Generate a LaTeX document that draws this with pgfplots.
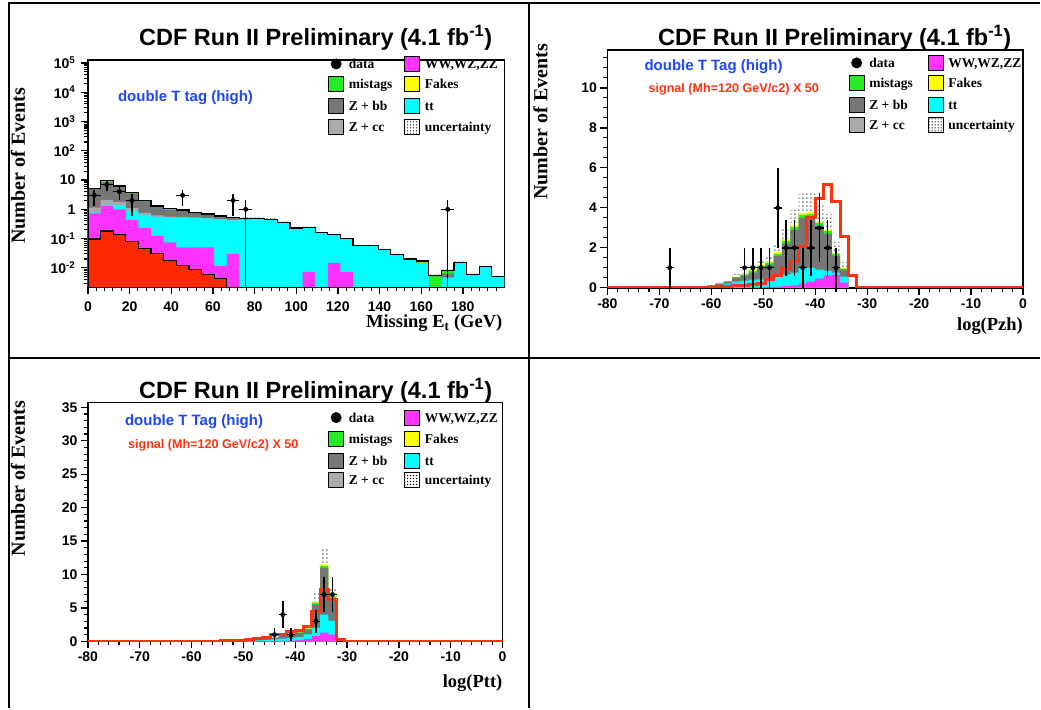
\documentclass[border=0pt]{standalone}
\usepackage{fontspec}
\setmainfont{Liberation Serif}
\newfontfamily\arial{Liberation Sans}
\usepackage{pgfplots}
\pgfplotsset{compat=1.18}
\usepackage{pgfplotstable}
\usetikzlibrary{patterns.meta}

\definecolor{cmag}{RGB}{255,51,255}
\definecolor{ccyan}{RGB}{0,255,255}
\definecolor{cdgray}{RGB}{118,118,118}
\definecolor{clgray}{RGB}{170,170,170}
\definecolor{cgreen}{RGB}{40,235,40}
\definecolor{cyellow}{RGB}{255,255,0}
\definecolor{cred}{RGB}{255,40,0}
\definecolor{csig}{RGB}{255,50,15}
\definecolor{cblue}{RGB}{30,70,250}

% ---------- panel 1 : Missing Et (cumulative stack tops, bins of 200/33) ----------
\pgfplotstableread{
x R M C LG DG Gr Y U
0 0.001 0.001 0.001 0.001 0.001 0.001 0.001 0.001
0 0.096 0.73 0.78 1.15 4.9 5.0 5.1 5.6
6.061 0.18 1.3 1.45 2.1 8.7 9.0 9.4 10.3
12.121 0.135 1.0 1.35 1.8 6.1 6.2 6.3 6.9
18.182 0.08 0.43 0.9 1.1 3.5 3.6 3.75 4.1
24.242 0.045 0.23 0.65 0.75 1.85 1.9 1.97 2.15
30.303 0.03 0.12 0.55 0.62 1.2 1.25 1.29 1.42
36.364 0.018 0.074 0.52 0.56 0.98 1.0 1.05 1.15
42.424 0.0123 0.05 0.5 0.54 0.88 0.9 0.95 1.05
48.485 0.0088 0.05 0.5 0.53 0.74 0.75 0.77 0.85
54.545 0.0059 0.05 0.48 0.5 0.66 0.67 0.69 0.76
60.606 0.0043 0.0114 0.45 0.47 0.57 0.58 0.59 0.65
66.667 0.001 0.03 0.42 0.44 0.52 0.53 0.54 0.6
72.727 0.001 0.001 0.45 0.46 0.49 0.5 0.5 0.55
78.788 0.001 0.001 0.46 0.47 0.48 0.5 0.5 0.55
84.848 0.001 0.001 0.44 0.45 0.455 0.46 0.46 0.5
90.909 0.001 0.001 0.34 0.35 0.355 0.36 0.36 0.39
96.970 0.001 0.001 0.22 0.225 0.228 0.23 0.23 0.25
103.030 0.001 0.0073 0.235 0.24 0.243 0.245 0.245 0.26
109.091 0.001 0.001 0.16 0.163 0.165 0.166 0.166 0.18
115.152 0.001 0.0148 0.13 0.132 0.133 0.134 0.134 0.145
121.212 0.001 0.0073 0.094 0.096 0.097 0.098 0.098 0.105
127.273 0.001 0.001 0.057 0.058 0.058 0.059 0.059 0.064
133.333 0.001 0.001 0.056 0.057 0.058 0.059 0.059 0.064
139.394 0.001 0.001 0.040 0.041 0.041 0.041 0.042 0.046
145.455 0.001 0.001 0.027 0.0275 0.0278 0.028 0.028 0.031
151.515 0.001 0.001 0.019 0.0195 0.0198 0.020 0.020 0.022
157.576 0.001 0.001 0.014 0.0145 0.015 0.015 0.017 0.019
163.636 0.001 0.001 0.001 0.001 0.001 0.0055 0.0055 0.006
169.697 0.001 0.001 0.0046 0.0046 0.0063 0.0083 0.0083 0.009
175.758 0.001 0.001 0.015 0.0152 0.0154 0.0156 0.0156 0.017
181.818 0.001 0.001 0.0057 0.0058 0.0059 0.0059 0.0059 0.0064
187.879 0.001 0.001 0.0105 0.0106 0.0107 0.0108 0.0108 0.0118
193.939 0.001 0.001 0.005 0.0051 0.0052 0.0052 0.0052 0.0057
200 0.001 0.001 0.001 0.001 0.001 0.001 0.001 0.001
}\tabA
\pgfplotstableread{
x y ex em ep
3.030 3 3.03 1.732 1.732
9.091 7 3.03 2.646 2.646
15.152 4 3.03 2 2
21.212 2 3.03 1.414 1.414
45.455 3 3.03 1.732 1.732
69.697 2 3.03 1.414 1.414
75.758 1 3.03 0.999 1
172.727 1 3.03 0.999 1
}\datA

% ---------- panel 2 : log(Pzh) ----------
\pgfplotstableread{
x M C G Gr Y U
-64.0 0 0 0 0 0 0
-64.0 0 0.02 0.03 0.03 0.03 0.04
-62.4 0 0.04 0.06 0.06 0.06 0.08
-60.8 0 0.08 0.12 0.12 0.12 0.16
-59.2 0 0.12 0.2 0.2 0.2 0.26
-57.6 0 0.2 0.3 0.32 0.33 0.42
-56.0 0.01 0.3 0.5 0.53 0.55 0.7
-54.4 0.01 0.35 0.6 0.65 0.68 0.86
-52.8 0.02 0.4 0.75 0.85 0.9 1.12
-51.2 0.03 0.42 1.0 1.1 1.15 1.42
-49.6 0.04 0.45 1.15 1.25 1.3 1.6
-48.0 0.05 0.55 1.6 1.7 1.8 2.2
-46.4 0.08 0.65 2.2 2.35 2.45 3.0
-44.8 0.12 0.75 2.9 3.05 3.15 3.9
-43.2 0.2 1.0 3.5 3.65 3.75 4.7
-41.6 0.3 1.0 3.55 3.7 3.8 4.8
-40.0 0.45 0.9 3.1 3.25 3.3 4.2
-38.4 0.6 0.85 2.7 2.85 2.9 3.7
-36.8 0.65 0.75 1.6 1.7 1.75 2.3
-35.2 0.25 0.55 0.9 0.95 1.0 1.3
-33.6 0 0 0 0 0 0
}\tabB
\pgfplotstableread{
x S
-80.0 0.03
-59.2 0.05
-57.6 0.07
-56.0 0.1
-54.4 0.13
-52.8 0.16
-51.2 0.2
-49.6 0.4
-48.0 0.6
-46.4 0.98
-44.8 1.3
-43.2 2.07
-41.6 3.5
-40.0 4.45
-38.4 5.15
-36.8 4.3
-35.2 2.57
-33.6 0.6
-32.0 0.03
0.0 0.03
}\sigB
\pgfplotstableread{
x y ex em ep
-68.0 1 0.8 1 1
-53.6 1 0.8 1 1
-52.0 1 0.8 1 1
-50.4 1 0.8 1 1
-48.8 1 0.8 1 1
-47.2 4 0.8 2 2
-45.6 2 0.8 1.414 1.414
-44.0 2 0.8 1.414 1.414
-42.4 1 0.8 1 1
-40.8 2 0.8 1.414 1.414
-39.2 3 0.8 1.732 1.732
-37.6 2 0.8 1.414 1.414
-36.0 1 0.8 1 1
}\datB

% ---------- panel 3 : log(Ptt) ----------
\pgfplotstableread{
x M C G Gr Y U
-56.0 0 0 0 0 0 0
-56.0 0 0.03 0.05 0.05 0.05 0.07
-54.4 0 0.05 0.1 0.1 0.1 0.12
-52.8 0 0.08 0.15 0.15 0.15 0.2
-51.2 0 0.1 0.2 0.2 0.2 0.25
-49.6 0 0.12 0.25 0.26 0.27 0.35
-48.0 0.02 0.15 0.3 0.32 0.33 0.45
-46.4 0.03 0.2 0.4 0.42 0.45 0.6
-44.8 0.05 0.3 0.55 0.58 0.6 0.8
-43.2 0.08 0.4 0.8 0.83 0.85 1.1
-41.6 0.12 0.5 1.0 1.05 1.1 1.4
-40.0 0.2 0.65 1.3 1.35 1.4 1.8
-38.4 0.35 1.05 1.8 1.9 2.0 2.6
-36.8 0.8 2.05 5.5 5.8 5.9 7.5
-35.2 1.3 4.0 11.0 11.3 11.5 13.8
-33.6 1.0 3.1 6.5 6.7 6.8 8.0
-32.0 0 0 0 0 0 0
}\tabC
\pgfplotstableread{
x S
-80.0 0.05
-54.4 0.1
-52.8 0.15
-51.2 0.2
-49.6 0.25
-48.0 0.4
-46.4 0.6
-44.8 1.0
-43.2 1.05
-41.6 1.55
-40.0 1.6
-38.4 2.3
-36.8 4.4
-35.2 7.7
-33.6 6.2
-32.0 0.3
-30.4 0.05
0.0 0.05
}\sigC
\pgfplotstableread{
x y ex em ep
-44.0 1 0.8 1 1
-42.4 4 0.8 2 2
-40.8 1 0.8 1 1
-36.0 3 0.8 1.732 1.732
-34.4 7 0.8 2.646 2.646
-32.8 7 0.8 2.646 2.646
}\datC

\pgfplotsset{
  cdfaxis/.style={
    scale only axis, anchor=south west,
    axis line style={line width=1.6pt},
    every major tick/.append style={black, line width=1.3pt},
    every minor tick/.append style={black, line width=1.1pt},
    tick align=outside, tick pos=left,
    major tick length=7pt, minor tick length=4pt,
    ticklabel style={font=\arial\bfseries\fontsize{14}{16}\selectfont},
    /pgf/number format/assume math mode=true,
  },
  stk/.style={const plot, draw=none, mark=none, fill=#1},
  unc/.style={const plot, draw=none, mark=none, pattern={Dots[distance=4pt,radius=0.75pt]}, pattern color=black},
  dat/.style={black, only marks, mark=*, mark size=2.2pt, mark options={fill=black},
    error bars/.cd, x dir=both, x explicit, y dir=both, y explicit,
    error bar style={line width=1.5pt, black}, error mark=none},
}

\tikzset{
  legtext/.style={anchor=base west, inner sep=0pt, font=\bfseries\fontsize{13.5}{16}\selectfont},
  legbox/.style={line width=1pt, draw=black},
}
\newcommand{\cdflegend}[6]{%
  \fill (#1+7.5,709-#3) circle (5.5);
  \node[legtext] at (#1+20,709-#3-4.5) {data};
  \draw[legbox, fill=cmag] (#2,709-#3-7.5) rectangle ++(15,15);
  \node[legtext] at (#2+20,709-#3-4.5) {WW,WZ,ZZ};
  \draw[legbox, fill=cgreen] (#1,709-#4-7.5) rectangle ++(15,15);
  \node[legtext] at (#1+20,709-#4-4.5) {mistags};
  \draw[legbox, fill=cyellow] (#2,709-#4-7.5) rectangle ++(15,15);
  \node[legtext] at (#2+20,709-#4-4.5) {Fakes};
  \draw[legbox, fill=cdgray] (#1,709-#5-7.5) rectangle ++(15,15);
  \node[legtext] at (#1+20,709-#5-4.5) {Z + bb};
  \draw[legbox, fill=ccyan] (#2,709-#5-7.5) rectangle ++(15,15);
  \node[legtext] at (#2+20,709-#5-4.5) {tt};
  \draw[legbox, fill=clgray] (#1,709-#6-7.5) rectangle ++(15,15);
  \node[legtext] at (#1+20,709-#6-4.5) {Z + cc};
  \draw[legbox, pattern={Dots[distance=3pt,radius=0.7pt]}, pattern color=black] (#2,709-#6-7.5) rectangle ++(15,15);
  \node[legtext] at (#2+20,709-#6-4.5) {uncertainty};
}

\begin{document}
\begin{tikzpicture}
\begin{scope}[x=1pt,y=1pt]
  \useasboundingbox (0,0) rectangle (1041,709);
\end{scope}

% ================= panel 1 =================
\begin{axis}[cdfaxis, at={(88pt,422pt)}, width=417pt, height=227pt,
  xmin=0, xmax=200, ymode=log, log basis y=10, ymin=0.00226, ymax=1.27e5,
  xtick={0,20,...,180}, xticklabels={0,20,40,60,80,100,120,140,160,180},
  xticklabel style={yshift=-4pt},
  yticklabel style={xshift=-2pt},
  minor xtick={4,8,...,196},
  ytick={0.01,0.1,1,10,100,1000,10000,100000},
  yticklabels={10\textsuperscript{-2},10\textsuperscript{-1},1,10,10\textsuperscript{2},10\textsuperscript{3},10\textsuperscript{4},10\textsuperscript{5}},
  minor ytick={0.003,0.004,0.005,0.006,0.007,0.008,0.009,0.02,0.03,0.04,0.05,0.06,0.07,0.08,0.09,0.2,0.3,0.4,0.5,0.6,0.7,0.8,0.9,2,3,4,5,6,7,8,9,20,30,40,50,60,70,80,90,200,300,400,500,600,700,800,900,2000,3000,4000,5000,6000,7000,8000,9000,20000,30000,40000,50000,60000,70000,80000,90000},
]
  \addplot[unc] table[x=x,y=U]{\tabA};
  \addplot[stk=cyellow] table[x=x,y=Y]{\tabA};
  \addplot[stk=cgreen] table[x=x,y=Gr]{\tabA};
  \addplot[stk=cdgray] table[x=x,y=DG]{\tabA};
  \addplot[stk=clgray] table[x=x,y=LG]{\tabA};
  \addplot[stk=ccyan] table[x=x,y=C]{\tabA};
  \addplot[stk=cmag] table[x=x,y=M]{\tabA};
  \addplot[const plot, mark=none, fill=cred, draw=black, line width=1.2pt] table[x=x,y=R]{\tabA};
  \addplot[const plot, mark=none, draw=black, line width=1.2pt] table[x=x,y=Y]{\tabA};
  \addplot[dat] table[x=x,y=y,x error=ex,y error plus=ep,y error minus=em]{\datA};
\end{axis}

% ================= panel 2 =================
\begin{axis}[cdfaxis, at={(608pt,421pt)}, width=416pt, height=238pt,
  xmin=-80, xmax=0, ymin=0, ymax=11.9,
  xtick={-80,-70,...,0}, xticklabels={-80,-70,-60,-50,-40,-30,-20,-10,0},
  minor xtick={-78,-76,...,-2},
  ytick={0,2,...,10}, yticklabels={0,2,4,6,8,10},
  minor ytick={0.5,1,...,11.5},
]
  \addplot[unc] table[x=x,y=U]{\tabB};
  \addplot[stk=cyellow] table[x=x,y=Y]{\tabB};
  \addplot[stk=cgreen] table[x=x,y=Gr]{\tabB};
  \addplot[stk=cdgray] table[x=x,y=G]{\tabB};
  \addplot[stk=ccyan] table[x=x,y=C]{\tabB};
  \addplot[stk=cmag] table[x=x,y=M]{\tabB};
  \addplot[const plot, mark=none, csig, line width=3pt] table[x=x,y=S]{\sigB};
  \addplot[dat] table[x=x,y=y,x error=ex,y error plus=ep,y error minus=em]{\datB};
\end{axis}

% ================= panel 3 =================
\begin{axis}[cdfaxis, at={(88pt,67pt)}, width=415pt, height=239pt,
  xmin=-80, xmax=0, ymin=0, ymax=35.7,
  xtick={-80,-70,...,0}, xticklabels={-80,-70,-60,-50,-40,-30,-20,-10,0},
  minor xtick={-78,-76,...,-2},
  ytick={0,5,...,35}, yticklabels={0,5,10,15,20,25,30,35},
  minor ytick={1,2,...,35},
]
  \addplot[unc] table[x=x,y=U]{\tabC};
  \addplot[stk=cyellow] table[x=x,y=Y]{\tabC};
  \addplot[stk=cgreen] table[x=x,y=Gr]{\tabC};
  \addplot[stk=cdgray] table[x=x,y=G]{\tabC};
  \addplot[stk=ccyan] table[x=x,y=C]{\tabC};
  \addplot[stk=cmag] table[x=x,y=M]{\tabC};
  \addplot[const plot, mark=none, csig, line width=3pt] table[x=x,y=S]{\sigC};
  \addplot[dat] table[x=x,y=y,x error=ex,y error plus=ep,y error minus=em]{\datC};
\end{axis}

\begin{scope}[x=1pt,y=1pt]
  % pad frames
  \draw[line width=2pt] (9,0) -- (9,706) -- (1041,706);
  \draw[line width=2pt] (530,0) -- (530,706);
  \draw[line width=2pt] (9,351) -- (1041,351);

  % titles
  \node[anchor=base, inner sep=0, font=\arial\bfseries\fontsize{23.5}{28}\selectfont] at (316,663.5) {CDF Run II Preliminary (4.1 fb\textsuperscript{-1})};
  \node[anchor=base, inner sep=0, font=\arial\bfseries\fontsize{23.5}{28}\selectfont] at (835.5,663) {CDF Run II Preliminary (4.1 fb\textsuperscript{-1})};
  \node[anchor=base, inner sep=0, font=\arial\bfseries\fontsize{23.5}{28}\selectfont] at (316,310) {CDF Run II Preliminary (4.1 fb\textsuperscript{-1})};

  % y labels
  \node[rotate=90, inner sep=0, font=\bfseries\fontsize{20}{24}\selectfont] at (18,543) {Number of Events};
  \node[rotate=90, inner sep=0, font=\bfseries\fontsize{20}{24}\selectfont] at (541,587) {Number of Events};
  \node[rotate=90, inner sep=0, font=\bfseries\fontsize{20}{24}\selectfont] at (18,230) {Number of Events};

  % x labels
  \node[anchor=base east, inner sep=0, font=\bfseries\fontsize{18.5}{22}\selectfont] at (503,381) {Missing E\textsubscript{t} (GeV)};
  \node[anchor=base east, inner sep=0, font=\bfseries\fontsize{18.5}{22}\selectfont] at (1024,378) {log(Pzh)};
  \node[anchor=base east, inner sep=0, font=\bfseries\fontsize{18.5}{22}\selectfont] at (503,21) {log(Ptt)};

  % annotations
  \node[anchor=base west, inner sep=0, text=cblue, font=\arial\bfseries\fontsize{15}{18}\selectfont] at (118,607) {double T tag (high)};
  \node[anchor=base west, inner sep=0, text=cblue, font=\arial\bfseries\fontsize{15}{18}\selectfont] at (645,638) {double T Tag (high)};
  \node[anchor=base west, inner sep=0, text=csig, font=\arial\bfseries\fontsize{12.6}{15}\selectfont] at (649,616) {signal (Mh=120 GeV/c2) X 50};
  \node[anchor=base west, inner sep=0, text=cblue, font=\arial\bfseries\fontsize{15}{18}\selectfont] at (125,283) {double T Tag (high)};
  \node[anchor=base west, inner sep=0, text=csig, font=\arial\bfseries\fontsize{12.6}{15}\selectfont] at (128,260) {signal (Mh=120 GeV/c2) X 50};

  % legends
  \cdflegend{329}{405}{64}{84}{106}{127}
  \cdflegend{850}{929}{63}{83}{105}{125}
  \cdflegend{329}{405}{418}{439}{461}{480}
\end{scope}
\end{tikzpicture}
\end{document}
